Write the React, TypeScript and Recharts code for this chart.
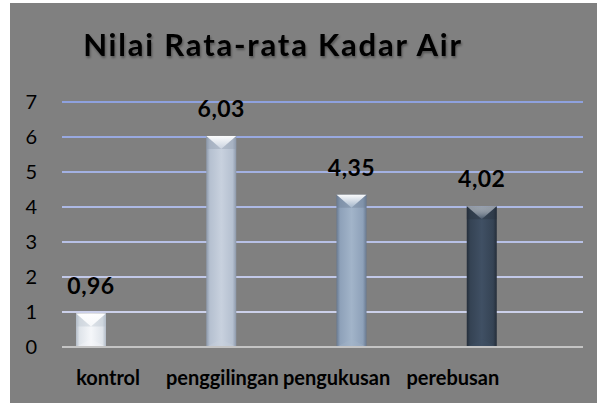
import * as React from 'react';
import { BarChart, Bar, XAxis, YAxis, CartesianGrid, LabelList, Customized } from 'recharts';

// data
const categories = ['kontrol', 'penggilingan', 'pengukusan', 'perebusan'];
const kadarAir = [0.96, 6.03, 4.35, 4.02];
const yTicks = [0, 1, 2, 3, 4, 5, 6, 7];

// cylinder colours per bar: [edge, body, highlight]
const barColors = [
  ['#b3bcc8', '#dfe4ea', '#f5f7fa'],
  ['#8c98aa', '#b5c0d0', '#c8d1de'],
  ['#687990', '#8ea1b9', '#a2b4c9'],
  ['#242d39', '#354354', '#405064'],
];

// the source chart places its category labels a little left of the band centre
const labelShift = [-19, -35, -51, -65];

const chartData = categories.map((name, i) => ({
  name,
  nilai: kadarAir[i],
  kosong1: null,
  kosong2: null,
}));

const fmt = (v: number) => v.toFixed(2).replace('.', ',');

const CylinderBar = (props: any) => {
  const { x, y, width, height, index } = props;
  if (!height || height <= 0) return null;
  const bevel = Math.min(13, height / 2);
  return (
    <g>
      <rect x={x} y={y} width={width} height={height} fill={`url(#cyl${index})`} />
      <polygon
        points={`${x},${y} ${x + width},${y} ${x + width / 2},${y + bevel}`}
        fill={`url(#top${index})`}
      />
      <polygon
        points={`${x},${y} ${x + width / 2},${y + bevel} ${x},${y + bevel}`}
        fill={barColors[index][0]}
        opacity={0.35}
      />
      <polygon
        points={`${x + width},${y} ${x + width / 2},${y + bevel} ${x + width},${y + bevel}`}
        fill={barColors[index][0]}
        opacity={0.35}
      />
      <polygon
        points={`${x},${y + height} ${x + width},${y + height} ${x + width / 2},${y + height - 8}`}
        fill={barColors[index][2]}
        opacity={0.35}
      />
    </g>
  );
};

const CategoryTick = (props: any) => {
  const { x, y, payload, index } = props;
  return (
    <text
      x={x + labelShift[index]}
      y={y + 38}
      textAnchor="middle"
      fontFamily="Lato"
      fontWeight="bold"
      fontSize={20}
      fill="#000"
    >
      {payload.value}
    </text>
  );
};

const Title = () => (
  <text x={263} y={53} textAnchor="middle" fontFamily="Lato" fontWeight="bold" fontSize={31} letterSpacing={1.8} fill="#000"
    style={{ filter: 'drop-shadow(1px 2px 1px rgba(0,0,0,0.35))' }}>
    Nilai Rata-rata Kadar Air
  </text>
);

export default function App() {
  return (
    <div style={{ position: 'absolute', left: 0, top: 0, width: 599, height: 407, background: '#fff' }}>
      <div style={{ position: 'absolute', left: 10, top: 3, width: 587, height: 400, background: '#808080' }}>
        <BarChart
          width={587}
          height={400}
          data={chartData}
          margin={{ top: 99, right: 14, left: 0, bottom: 0 }}
          barSize={30}
          barGap={6}
        >
          <defs>
            <linearGradient id="gridGrad" gradientUnits="userSpaceOnUse" x1="0" y1="99" x2="0" y2="344">
              <stop offset="0%" stopColor="#8ea1de" />
              <stop offset="100%" stopColor="#d6d8ec" />
            </linearGradient>
            {barColors.map((c, i) => (
              <linearGradient key={`c${i}`} id={`cyl${i}`} x1="0" y1="0" x2="1" y2="0">
                <stop offset="0%" stopColor={c[0]} />
                <stop offset="12%" stopColor={c[1]} />
                <stop offset="50%" stopColor={c[2]} />
                <stop offset="88%" stopColor={c[1]} />
                <stop offset="100%" stopColor={c[0]} />
              </linearGradient>
            ))}
            {barColors.map((c, i) => (
              <linearGradient key={`t${i}`} id={`top${i}`} x1="0" y1="0" x2="0" y2="1">
                <stop offset="0%" stopColor="#ffffff" stopOpacity={i === 3 ? 0.45 : 0.95} />
                <stop offset="100%" stopColor={c[2]} />
              </linearGradient>
            ))}
          </defs>
          <Customized component={Title} />
          <CartesianGrid vertical={false} stroke="url(#gridGrad)" strokeWidth={2} />
          <XAxis
            dataKey="name"
            height={56}
            tickSize={0}
            tickMargin={0}
            interval={0}
            axisLine={{ stroke: '#c4c4c4', strokeWidth: 2 }}
            tick={<CategoryTick />}
          />
          <YAxis
            width={52}
            domain={[0, 7]}
            ticks={yTicks}
            axisLine={false}
            tickLine={false}
            tickSize={0}
            tickMargin={25}
            tick={{ fontFamily: 'Lato', fontSize: 20, fill: '#000' }}
          />
          <Bar dataKey="nilai" shape={<CylinderBar />} isAnimationActive={false}>
            <LabelList
              dataKey="nilai"
              position="top"
              offset={19}
              formatter={(v: any) => fmt(Number(v))}
              style={{ fontFamily: 'Lato', fontWeight: 'bold', fontSize: 23, letterSpacing: 0.5, fill: '#000' }}
            />
          </Bar>
          <Bar dataKey="kosong1" isAnimationActive={false} />
          <Bar dataKey="kosong2" isAnimationActive={false} />
        </BarChart>
      </div>
    </div>
  );
}
